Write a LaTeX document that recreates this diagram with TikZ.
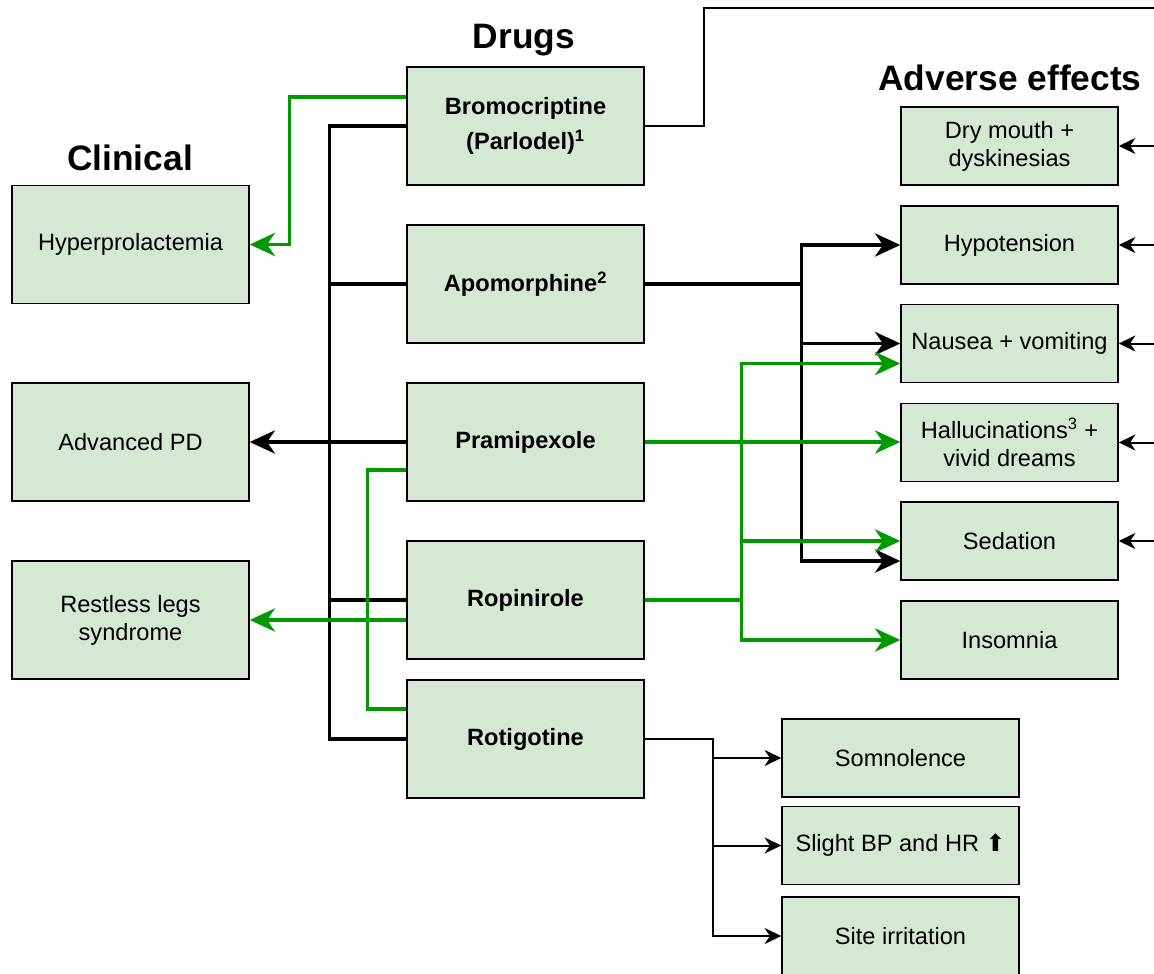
\documentclass[tikz,border=0pt]{standalone}
\usepackage{fontspec}
\setmainfont{Liberation Sans}
\newfontfamily\symfont{DejaVu Sans}
\usetikzlibrary{arrows.meta,calc}

\definecolor{boxfill}{HTML}{D5E8D4}
\definecolor{linkgreen}{HTML}{009900}

\tikzset{
  box/.style={draw=black, line width=1.1pt, fill=boxfill, align=center,
    minimum width=177.75pt, minimum height=88.5pt, inner sep=0pt,
    font=\fontsize{17.7}{21}\selectfont},
  drugbox/.style={box, font=\fontsize{17.7}{21}\selectfont\bfseries},
  effbox/.style={box, minimum width=162.75pt, minimum height=58.5pt},
  lowbox/.style={box, minimum height=58.5pt},
  heading/.style={font=\fontsize{26.5}{30}\selectfont\bfseries},
  thick link/.style={draw=black, line width=2.6pt},
  green link/.style={draw=linkgreen, line width=2.6pt},
  thin link/.style={draw=black, line width=1.5pt},
  big tip/.style={-{Stealth[length=19pt, width=17.5pt, inset=6pt]}},
  small tip/.style={-{Stealth[length=12.5pt, width=12pt, inset=4pt]}},
}

\begin{document}
\begin{tikzpicture}[x=0.75pt, y=-0.75pt]
\useasboundingbox (0,0) rectangle (1154,974);

% headings
\node[heading] (hdrugs) at (524,40) {Drugs};
\node[heading] (hclin) at (130,158) {Clinical};
\node[heading] (heff) at (1010,78) {Adverse effects};

% drugs
\node[drugbox] (brom) at (525.5,126) {\rule{0pt}{6pt}Bromocriptine\\[5pt](Parlodel)\textsuperscript{1}};
\node[drugbox] (apo)  at (525.5,284) {Apomorphine\textsuperscript{2}};
\node[drugbox] (pram) at (525.5,442) {Pramipexole};
\node[drugbox] (ropi) at (525.5,600) {Ropinirole};
\node[drugbox] (roti) at (525.5,739) {Rotigotine};

% clinical uses
\node[box] (hyper) at (130.5,244.5) {Hyperprolactemia};
\node[box] (adv)   at (130.5,442)   {Advanced PD};
\node[box] (rls)   at (130.5,620)   {Restless legs\\syndrome};

% adverse effects
\node[effbox] (dry)  at (1009.5,146)   {Dry mouth +\\dyskinesias};
\node[effbox] (hypo) at (1009.5,245)   {Hypotension};
\node[effbox] (naus) at (1009.5,343.5) {Nausea + vomiting};
\node[effbox] (hall) at (1009.5,442.5) {Hallucinations\textsuperscript{3} +\\vivid dreams};
\node[effbox] (sed)  at (1009.5,541)   {Sedation};
\node[effbox] (ins)  at (1009.5,640)   {Insomnia};

% rotigotine-specific effects
\node[lowbox] (somn) at (900.5,758)   {Somnolence};
\node[lowbox] (bp)   at (900.5,845.5) {Slight BP and HR {\symfont ⬆}};
\node[lowbox] (site) at (900.5,936)   {Site irritation};

% free ends on the right
\coordinate (edge) at (1154,0);
\coordinate (topR) at (1154,8);

% all drugs -> advanced PD
\draw[thick link] (brom.west) -- ++(-77,0) |- (roti.west);
\draw[thick link] (apo.west) -- ++(-77,0);
\draw[thick link] (ropi.west) -- ++(-77,0);
\draw[thick link, big tip] (pram.west) -- (adv.east);

% bromocriptine -> hyperprolactemia
\draw[green link, big tip] ($(brom.west)+(0,-29)$) -| ($(hyper.east)+(40,0)$) -- (hyper.east);

% restless legs
\draw[green link] ($(pram.west)+(0,28)$) -- ++(-39,0) |- ($(roti.west)+(0,-30)$);
\draw[green link, big tip] (ropi.west |- rls.east) -- (rls.east);

% apomorphine effects
\draw[thick link, big tip] (apo.east) -| ($(hypo.west)+(-99,0)$) -- (hypo.west);
\draw[thick link, big tip] (apo.east) -| ($(naus.west)+(-99,0)$) -- (naus.west);
\draw[thick link, big tip] (apo.east) -| ($(sed.west)+(-99,20)$) -- ($(sed.west)+(0,20)$);

% pramipexole / ropinirole effects
\draw[green link, big tip] (pram.east) -- (pram.east -| hall.west);
\draw[green link, big tip] (ropi.east) -| ($(naus.west)+(-159,20)$) -- ($(naus.west)+(0,20)$);
\draw[green link, big tip] (ropi.east) -| ($(sed.west)+(-159,0)$) -- (sed.west);
\draw[green link, big tip] (ropi.east) -| ($(ins.west)+(-159,0)$) -- (ins.west);

% rotigotine effects
\draw[thin link, small tip] (roti.east) -| ($(somn.west)+(-68,0)$) -- (somn.west);
\draw[thin link, small tip] (roti.east) -| ($(bp.west)+(-68,0)$) -- (bp.west);
\draw[thin link, small tip] (roti.east) -| ($(site.west)+(-68,0)$) -- (site.west);

% bromocriptine line leaving to the right
\draw[thin link] (brom.east) -- ++(59,0) |- (topR);

% incoming links from the right
\draw[thin link, small tip] (dry.east -| edge) -- (dry.east);
\draw[thin link, small tip] (hypo.east -| edge) -- (hypo.east);
\draw[thin link, small tip] (naus.east -| edge) -- (naus.east);
\draw[thin link, small tip] (hall.east -| edge) -- (hall.east);
\draw[thin link, small tip] (sed.east -| edge) -- (sed.east);
\end{tikzpicture}
\end{document}
